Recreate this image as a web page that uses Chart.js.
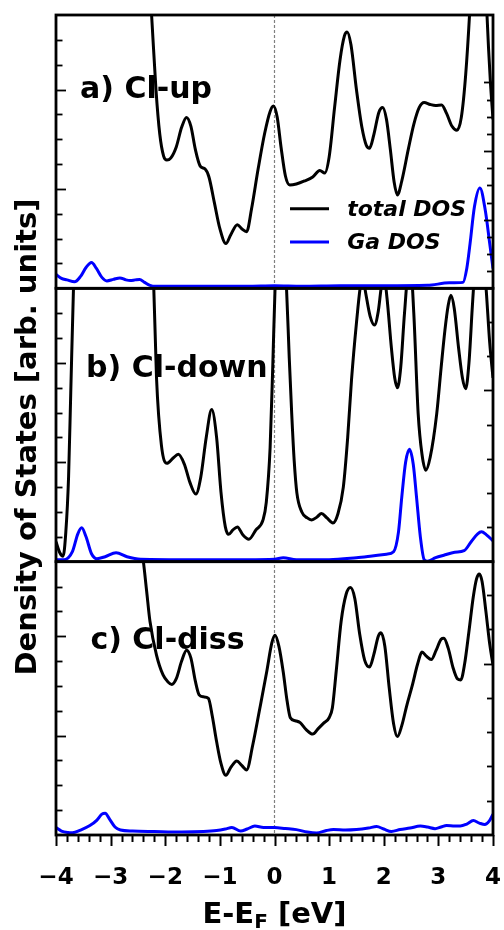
<!DOCTYPE html>
<html>
<head>
<meta charset="utf-8">
<title>Density of States</title>
<script src="https://cdn.jsdelivr.net/npm/chart.js@4.4.0/dist/chart.umd.min.js"></script>
<style>
  html, body { margin: 0; padding: 0; background: #fff; }
</style>
</head>
<body>
<canvas id="dos" width="504" height="930"></canvas>
<script>
// a) Cl-up
const upTotalE = [-2.60,-2.35,-2.25,-2.17,-2.10,-2.03,-1.97,-1.90,-1.80,-1.70,-1.61,-1.53,-1.45,-1.36,-1.27,-1.20,-1.10,-1.00,-0.89,-0.80,-0.68,-0.60,-0.51,-0.42,-0.30,-0.18,-0.08,-0.02,0.05,0.12,0.20,0.28,0.40,0.55,0.70,0.83,0.92,1.00,1.10,1.20,1.28,1.33,1.40,1.50,1.60,1.68,1.74,1.82,1.91,1.98,2.05,2.12,2.19,2.25,2.33,2.45,2.55,2.65,2.74,2.85,2.95,3.06,3.15,3.25,3.34,3.42,3.50,3.58,3.66,3.74,3.82,3.89,3.95,4.00];
const upTotal  = [6.0,3.6,2.75,2.0,1.55,1.33,1.29,1.31,1.42,1.62,1.72,1.63,1.40,1.23,1.20,1.12,0.86,0.60,0.45,0.54,0.64,0.60,0.57,0.80,1.20,1.56,1.78,1.835,1.72,1.42,1.13,1.04,1.05,1.08,1.12,1.185,1.16,1.32,1.82,2.30,2.54,2.58,2.45,2.00,1.62,1.44,1.41,1.55,1.77,1.82,1.70,1.40,1.07,0.94,1.08,1.40,1.65,1.82,1.87,1.85,1.84,1.845,1.76,1.63,1.59,1.72,2.15,2.85,3.8,4.3,3.8,2.75,2.1,1.70];
const upGaE = [-4.00,-3.90,-3.80,-3.66,-3.55,-3.45,-3.35,-3.26,-3.16,-3.07,-2.95,-2.83,-2.72,-2.64,-2.55,-2.47,-2.38,-2.28,-2.18,-1.50,-0.50,0.00,0.50,1.20,2.00,2.80,3.20,3.45,3.52,3.58,3.66,3.76,3.86,3.94,4.00];
const upGa  = [0.14,0.10,0.085,0.065,0.12,0.21,0.26,0.20,0.11,0.075,0.09,0.105,0.085,0.078,0.085,0.09,0.06,0.03,0.02,0.02,0.02,0.025,0.02,0.025,0.025,0.03,0.055,0.06,0.2,0.45,0.82,1.01,0.78,0.45,0.2];

// b) Cl-down
const dnTotalE = [-4.00,-3.93,-3.87,-3.82,-3.77,-3.73,-3.68,-3.60,-3.30,-2.80,-2.40,-2.28,-2.21,-2.16,-2.07,-1.97,-1.86,-1.76,-1.65,-1.55,-1.44,-1.35,-1.25,-1.15,-1.06,-0.98,-0.90,-0.84,-0.76,-0.68,-0.58,-0.47,-0.34,-0.21,-0.15,-0.08,-0.03,0.01,0.11,0.22,0.27,0.315,0.36,0.41,0.50,0.60,0.68,0.78,0.86,0.96,1.07,1.16,1.26,1.34,1.41,1.50,1.58,1.62,1.67,1.75,1.83,1.90,1.96,2.01,2.06,2.14,2.20,2.25,2.31,2.38,2.45,2.50,2.55,2.63,2.70,2.77,2.85,2.97,3.05,3.12,3.18,3.23,3.29,3.37,3.44,3.50,3.56,3.62,3.66,3.76,3.84,3.88,3.94,4.00];
const dnTotal  = [0.20,0.09,0.055,0.30,0.85,1.70,2.75,4.0,5.0,5.0,4.5,3.3,2.75,1.85,1.17,0.99,1.04,1.08,0.98,0.80,0.68,0.85,1.25,1.53,1.25,0.70,0.35,0.275,0.32,0.35,0.27,0.225,0.32,0.42,0.60,1.15,2.0,2.75,3.6,2.75,2.05,1.49,1.02,0.69,0.50,0.44,0.42,0.45,0.485,0.44,0.39,0.48,0.75,1.25,1.83,2.40,2.80,2.85,2.70,2.47,2.38,2.52,2.78,2.85,2.65,2.15,1.85,1.75,1.95,2.5,2.9,2.9,2.5,1.49,1.08,0.92,1.05,1.49,1.95,2.33,2.58,2.68,2.55,2.15,1.85,1.74,2.0,2.55,2.9,3.6,3.0,2.7,2.2,1.85];
const dnGaE = [-4.00,-3.85,-3.70,-3.60,-3.53,-3.45,-3.35,-3.25,-3.10,-2.90,-2.70,-2.45,-1.50,-0.50,0.00,0.16,0.40,1.00,1.50,1.75,2.05,2.18,2.27,2.33,2.40,2.47,2.54,2.60,2.67,2.74,2.80,2.95,3.10,3.30,3.47,3.60,3.72,3.79,3.88,4.00];
const dnGa  = [0.02,0.02,0.10,0.28,0.34,0.25,0.08,0.03,0.05,0.09,0.05,0.025,0.02,0.02,0.025,0.04,0.02,0.02,0.04,0.055,0.075,0.10,0.30,0.65,1.00,1.13,0.98,0.65,0.25,0.02,0.005,0.04,0.065,0.095,0.11,0.20,0.28,0.30,0.27,0.21];

// c) Cl-diss
const disTotalE = [-2.60,-2.45,-2.40,-2.34,-2.28,-2.16,-2.04,-1.95,-1.88,-1.80,-1.70,-1.61,-1.53,-1.45,-1.38,-1.30,-1.21,-1.14,-1.06,-0.98,-0.89,-0.80,-0.69,-0.60,-0.51,-0.40,-0.27,-0.14,-0.05,0.01,0.08,0.16,0.23,0.29,0.38,0.47,0.58,0.70,0.80,0.90,1.00,1.06,1.13,1.22,1.31,1.39,1.47,1.56,1.65,1.74,1.82,1.90,1.95,2.02,2.10,2.18,2.25,2.33,2.42,2.52,2.62,2.70,2.78,2.87,2.96,3.05,3.10,3.18,3.27,3.35,3.41,3.48,3.56,3.64,3.70,3.75,3.80,3.87,3.94,4.00];
const disTotal  = [4.0,2.95,2.75,2.45,2.15,1.81,1.61,1.54,1.515,1.57,1.75,1.86,1.78,1.55,1.41,1.39,1.375,1.20,0.94,0.72,0.60,0.68,0.745,0.70,0.655,0.90,1.27,1.65,1.93,2.01,1.90,1.64,1.35,1.18,1.15,1.13,1.06,1.015,1.07,1.125,1.18,1.28,1.65,2.15,2.42,2.49,2.38,2.02,1.76,1.69,1.82,2.00,2.035,1.90,1.48,1.12,0.99,1.10,1.30,1.50,1.72,1.84,1.80,1.765,1.86,1.97,1.98,1.88,1.68,1.57,1.56,1.72,2.05,2.40,2.58,2.625,2.55,2.25,1.92,1.71];
const disGaE = [-4.00,-3.90,-3.78,-3.70,-3.55,-3.38,-3.25,-3.16,-3.10,-3.02,-2.92,-2.82,-2.60,-2.20,-1.70,-1.30,-1.06,-0.90,-0.78,-0.62,-0.50,-0.36,-0.20,0.00,0.20,0.40,0.60,0.77,0.95,1.08,1.30,1.50,1.72,1.87,2.00,2.14,2.30,2.48,2.67,2.80,2.94,3.05,3.15,3.30,3.40,3.52,3.64,3.75,3.85,3.93,4.00];
const disGa  = [0.075,0.04,0.025,0.023,0.05,0.095,0.15,0.21,0.22,0.16,0.08,0.05,0.04,0.035,0.03,0.035,0.045,0.06,0.075,0.04,0.06,0.09,0.075,0.075,0.065,0.054,0.03,0.02,0.045,0.055,0.05,0.055,0.07,0.085,0.06,0.035,0.055,0.07,0.09,0.08,0.064,0.08,0.095,0.09,0.09,0.11,0.145,0.12,0.105,0.14,0.21];

const panelNames = ['a) Cl-up', 'b) Cl-down', 'c) Cl-diss'];
const seriesNames = ['total DOS', 'Ga DOS'];

const FONT = '"DejaVu Sans", sans-serif';
const BLACK = '#000000';
const BLUE = '#0000ff';

function pts(E, v) {
  return E.map((e, i) => ({ x: e, y: v[i] }));
}

function line(E, v, color, axis) {
  return {
    data: pts(E, v),
    yAxisID: axis,
    borderColor: color,
    borderWidth: 3,
    pointRadius: 0,
    cubicInterpolationMode: 'monotone',
    fill: false
  };
}

function panelAxis() {
  return {
    type: 'linear',
    position: 'left',
    stack: 'dos',
    stackWeight: 1,
    min: 0,
    max: 2.75,
    ticks: { display: false },
    grid: { display: false },
    border: { display: false },
    afterFit: s => { s.width = 56; }
  };
}

// inward ticks on the right-hand side of each panel
const rightTicks = {
  ya: { step: 0.1727, count: 12, every: 4 },
  yb: { step: 0.345, count: 7, every: 5 },
  yc: { step: 0.345, count: 7, every: 5 }
};

// label anchor per panel (data coords: energy, y)
const panelLabelPos = {
  ya: [-3.56, 1.91],
  yb: [-3.45, 1.86],
  yc: [-3.37, 1.87]
};

const framePlugin = {
  id: 'frame',
  beforeDatasetsDraw(chart) {
    const { ctx, chartArea: a } = chart;
    const x0 = chart.scales.x.getPixelForValue(0);
    ctx.save();
    ctx.strokeStyle = '#808080';
    ctx.lineWidth = 1.2;
    ctx.setLineDash([3, 2]);
    ctx.beginPath();
    ctx.moveTo(x0, a.top);
    ctx.lineTo(x0, a.bottom);
    ctx.stroke();
    ctx.restore();
  },
  beforeDatasetDraw(chart, args) {
    const ys = chart.getDatasetMeta(args.index).yScale;
    const a = chart.chartArea;
    const ctx = chart.ctx;
    ctx.save();
    ctx.beginPath();
    ctx.rect(a.left, ys.top, a.right - a.left, ys.bottom - ys.top);
    ctx.clip();
  },
  afterDatasetDraw(chart) {
    chart.ctx.restore();
  },
  afterDatasetsDraw(chart) {
    const { ctx, chartArea: a } = chart;
    const x = chart.scales.x;
    ctx.save();
    ctx.strokeStyle = BLACK;
    ctx.fillStyle = BLACK;

    ['ya', 'yb', 'yc'].forEach((id, p) => {
      const ys = chart.scales[id];
      // left ticks
      ctx.lineWidth = 1.8;
      for (let v = 0.25; v < 2.74; v += 0.25) {
        const py = Math.round(ys.getPixelForValue(v)) + 0.5;
        const len = Math.abs(v - Math.round(v)) < 1e-6 ? 10 : 6.5;
        ctx.beginPath();
        ctx.moveTo(a.left, py);
        ctx.lineTo(a.left + len, py);
        ctx.stroke();
      }
      // right ticks
      const rt = rightTicks[id];
      for (let k = 1; k <= rt.count; k++) {
        const py = Math.round(ys.getPixelForValue(k * rt.step)) + 0.5;
        const len = k % rt.every === 0 ? 9 : 6;
        ctx.beginPath();
        ctx.moveTo(a.right, py);
        ctx.lineTo(a.right - len, py);
        ctx.stroke();
      }
      // panel frame
      ctx.lineWidth = 2.8;
      ctx.strokeRect(a.left, ys.top, a.right - a.left, ys.bottom - ys.top);

      // panel label
      const lp = panelLabelPos[id];
      ctx.font = 'bold 30px ' + FONT;
      ctx.textAlign = 'left';
      ctx.textBaseline = 'alphabetic';
      ctx.fillText(panelNames[p], x.getPixelForValue(lp[0]), ys.getPixelForValue(lp[1]));
    });

    // x ticks (outward), minor every 0.2 eV
    ctx.lineWidth = 2;
    for (let i = 0; i <= 40; i++) {
      const e = -4 + i * 0.2;
      const px = Math.round(x.getPixelForValue(e)) + 0.5;
      const len = i % 5 === 0 ? 11 : 7;
      ctx.beginPath();
      ctx.moveTo(px, a.bottom);
      ctx.lineTo(px, a.bottom + len);
      ctx.stroke();
    }

    // legend in panel a
    const ya = chart.scales.ya;
    const legendRows = [[0.80, BLACK], [0.466, BLUE]];
    ctx.font = 'italic bold 22px ' + FONT;
    ctx.textBaseline = 'middle';
    legendRows.forEach(([v, c], i) => {
      const py = ya.getPixelForValue(v);
      ctx.strokeStyle = c;
      ctx.lineWidth = 3;
      ctx.beginPath();
      ctx.moveTo(x.getPixelForValue(0.284), py);
      ctx.lineTo(x.getPixelForValue(0.998), py);
      ctx.stroke();
      ctx.fillStyle = BLACK;
      ctx.fillText(seriesNames[i], x.getPixelForValue(1.33), py + 1);
    });

    // x axis title with subscript
    ctx.fillStyle = BLACK;
    ctx.textBaseline = 'alphabetic';
    ctx.textAlign = 'left';
    ctx.font = 'bold 29px ' + FONT;
    const t1 = 'E-E', t3 = ' [eV]';
    const w1 = ctx.measureText(t1).width;
    ctx.font = 'bold 20px ' + FONT;
    const w2 = ctx.measureText('F').width;
    ctx.font = 'bold 29px ' + FONT;
    const w3 = ctx.measureText(t3).width;
    let tx = (a.left + a.right) / 2 - (w1 + w2 + w3) / 2;
    const ty = 923;
    ctx.fillText(t1, tx, ty);
    ctx.font = 'bold 20px ' + FONT;
    ctx.fillText('F', tx + w1, ty + 5);
    ctx.font = 'bold 29px ' + FONT;
    ctx.fillText(t3, tx + w1 + w2, ty);

    // y axis title
    ctx.save();
    ctx.translate(36, 437);
    ctx.rotate(-Math.PI / 2);
    ctx.textAlign = 'center';
    ctx.fillText('Density of States [arb. units]', 0, 0);
    ctx.restore();

    ctx.restore();
  }
};

new Chart(document.getElementById('dos'), {
  type: 'line',
  data: {
    datasets: [
      line(upTotalE, upTotal, BLACK, 'ya'),
      line(upGaE, upGa, BLUE, 'ya'),
      line(dnTotalE, dnTotal, BLACK, 'yb'),
      line(dnGaE, dnGa, BLUE, 'yb'),
      line(disTotalE, disTotal, BLACK, 'yc'),
      line(disGaE, disGa, BLUE, 'yc')
    ]
  },
  options: {
    responsive: false,
    animation: false,
    layout: { padding: { left: 0, right: 11, top: 15, bottom: 0 } },
    plugins: { legend: { display: false }, tooltip: { enabled: false } },
    scales: {
      x: {
        type: 'linear',
        position: 'bottom',
        min: -4,
        max: 4,
        ticks: {
          stepSize: 1,
          color: BLACK,
          padding: 21,
          maxRotation: 0,
          font: { family: FONT, size: 23, weight: 'bold' },
          callback: v => (v < 0 ? '\u2212' + Math.abs(v) : String(v))
        },
        grid: { display: false },
        border: { display: false },
        afterFit: s => {
          s.height = 95;
          s.paddingLeft = 0;
          s.paddingRight = 0;
        }
      },
      yc: panelAxis(),
      yb: panelAxis(),
      ya: panelAxis()
    }
  },
  plugins: [framePlugin]
});
</script>
</body>
</html>
